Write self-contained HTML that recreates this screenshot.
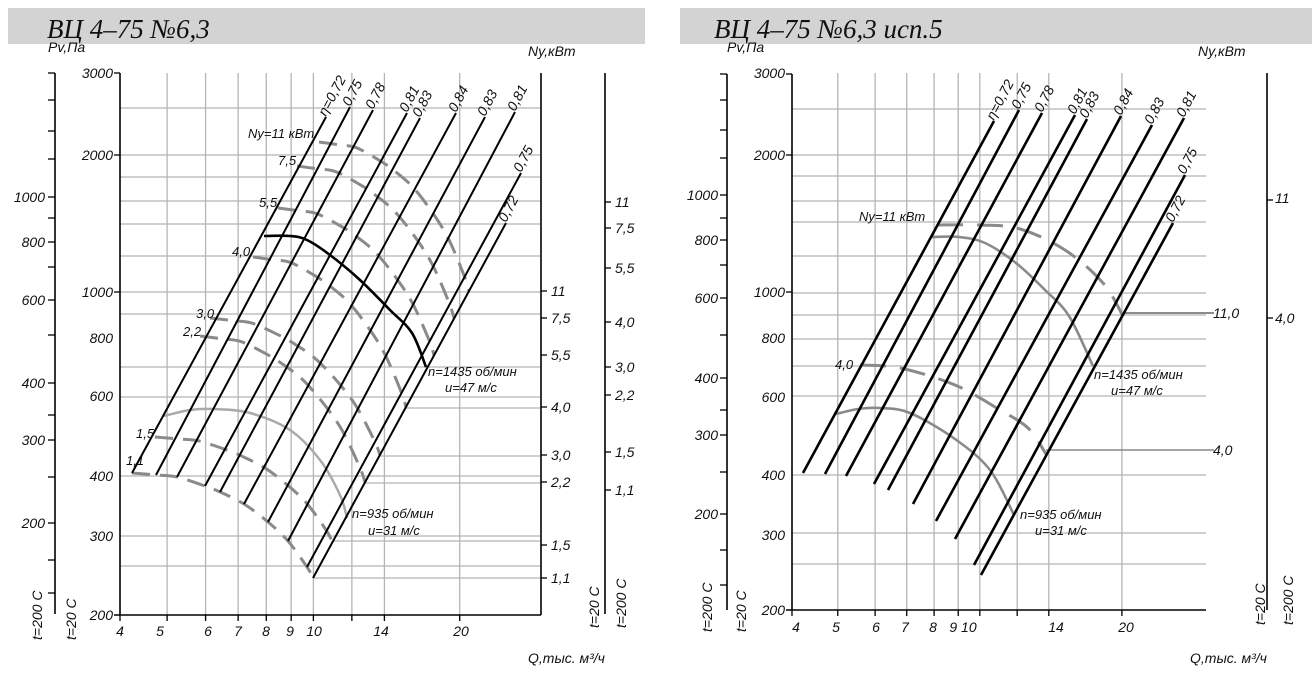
<!DOCTYPE html>
<html><head><meta charset="utf-8"><style>
html,body{margin:0;padding:0;background:#fff}
svg{display:block}
text{font-family:"Liberation Sans","DejaVu Sans",sans-serif;font-style:italic;font-size:14px;fill:#111}
.t{font-family:"Liberation Serif",serif;font-size:27px}
.s{font-size:13px}
</style></head><body>
<svg id="s" width="1312" height="683" viewBox="0 0 1312 683" xmlns="http://www.w3.org/2000/svg">
<rect x="8" y="8" width="637" height="36" fill="#d3d3d3"/>
<rect x="680" y="8" width="632" height="36" fill="#d3d3d3"/>
<text class="t" x="47" y="38">ВЦ 4–75 №6,3</text>
<text class="t" x="714" y="38">ВЦ 4–75 №6,3 исп.5</text>
<g id="g"></g>
<text x="48" y="52">Pv,Па</text><text x="528" y="56">Ny,кВт</text>
<g text-anchor="end">
<text x="113" y="78">3000</text><text x="113" y="160">2000</text><text x="113" y="297">1000</text><text x="113" y="343">800</text><text x="113" y="401">600</text><text x="113" y="481">400</text><text x="113" y="541">300</text><text x="113" y="620">200</text>
<text x="45" y="202">1000</text><text x="45" y="247">800</text><text x="45" y="305">600</text><text x="45" y="388">400</text><text x="45" y="445">300</text><text x="45" y="528">200</text>
</g>
<g text-anchor="middle">
<text x="120" y="636">4</text><text x="160" y="636">5</text><text x="208" y="636">6</text><text x="238" y="636">7</text><text x="266" y="636">8</text><text x="290" y="636">9</text><text x="314" y="636">10</text><text x="381" y="636">14</text><text x="461" y="636">20</text>
</g>
<text x="528" y="663">Q,тыс. м³/ч</text>
<g>
<text x="551" y="296">11</text><text x="551" y="323">7,5</text><text x="551" y="360">5,5</text><text x="551" y="412">4,0</text><text x="551" y="460">3,0</text><text x="551" y="487">2,2</text><text x="551" y="550">1,5</text><text x="551" y="583">1,1</text>
<text x="615" y="207">11</text><text x="615" y="233">7,5</text><text x="615" y="273">5,5</text><text x="615" y="327">4,0</text><text x="615" y="372">3,0</text><text x="615" y="400">2,2</text><text x="615" y="457">1,5</text><text x="615" y="495">1,1</text>
</g>
<text x="248" y="138" class="s">Ny=11 кВт</text>
<text x="278" y="165" class="s">7,5</text><text x="259" y="207" class="s">5,5</text><text x="232" y="256" class="s">4,0</text>
<text x="196" y="318" class="s">3,0</text><text x="183" y="336" class="s">2,2</text><text x="136" y="438" class="s">1,5</text><text x="126" y="465" class="s">1,1</text>
<text x="428" y="376" class="s">n=1435 об/мин</text><text x="445" y="392" class="s">u=47 м/с</text>
<text x="352" y="518" class="s">n=935 об/мин</text><text x="368" y="535" class="s">u=31 м/с</text>
<g class="s">
<text transform="translate(326,117) rotate(-62)">η=0,72</text>
<text transform="translate(350,107) rotate(-62)">0,75</text>
<text transform="translate(373,110) rotate(-62)">0,78</text>
<text transform="translate(407,113) rotate(-62)">0,81</text>
<text transform="translate(420,118) rotate(-62)">0,83</text>
<text transform="translate(456,113) rotate(-62)">0,84</text>
<text transform="translate(485,117) rotate(-62)">0,83</text>
<text transform="translate(515,112) rotate(-62)">0,81</text>
<text transform="translate(521,173) rotate(-62)">0,75</text>
<text transform="translate(506,223) rotate(-62)">0,72</text>
</g>
<text transform="translate(42,640) rotate(-90)">t=200 C</text>
<text transform="translate(76,640) rotate(-90)">t=20 C</text>
<text transform="translate(599,628) rotate(-90)">t=20 C</text>
<text transform="translate(626,628) rotate(-90)">t=200 C</text>

<text x="727" y="52">Pv,Па</text><text x="1198" y="56">Ny,кВт</text>
<g text-anchor="end">
<text x="785" y="78">3000</text><text x="785" y="160">2000</text><text x="785" y="297">1000</text><text x="785" y="343">800</text><text x="785" y="402">600</text><text x="785" y="480">400</text><text x="785" y="540">300</text><text x="785" y="615">200</text>
<text x="718" y="200">1000</text><text x="718" y="245">800</text><text x="718" y="303">600</text><text x="718" y="383">400</text><text x="718" y="440">300</text><text x="718" y="519">200</text>
</g>
<g text-anchor="middle">
<text x="796" y="632">4</text><text x="836" y="632">5</text><text x="876" y="632">6</text><text x="905" y="632">7</text><text x="933" y="632">8</text><text x="963" y="632">9 10</text><text x="1056" y="632">14</text><text x="1126" y="632">20</text>
</g>
<text x="1190" y="663">Q,тыс. м³/ч</text>
<text x="1213" y="318">11,0</text><text x="1213" y="455">4,0</text>
<text x="1275" y="203">11</text><text x="1275" y="323">4,0</text>
<text x="859" y="221" class="s">Ny=11 кВт</text>
<text x="835" y="369" class="s">4,0</text>
<text x="1094" y="379" class="s">n=1435 об/мин</text><text x="1111" y="395" class="s">u=47 м/с</text>
<text x="1020" y="519" class="s">n=935 об/мин</text><text x="1035" y="535" class="s">u=31 м/с</text>
<g class="s">
<text transform="translate(994,121) rotate(-62)">η=0,72</text>
<text transform="translate(1019,110) rotate(-62)">0,75</text>
<text transform="translate(1042,113) rotate(-62)">0,78</text>
<text transform="translate(1075,115) rotate(-62)">0,81</text>
<text transform="translate(1087,119) rotate(-62)">0,83</text>
<text transform="translate(1121,116) rotate(-62)">0,84</text>
<text transform="translate(1152,125) rotate(-62)">0,83</text>
<text transform="translate(1184,118) rotate(-62)">0,81</text>
<text transform="translate(1185,175) rotate(-62)">0,75</text>
<text transform="translate(1173,223) rotate(-62)">0,72</text>
</g>
<text transform="translate(712,632) rotate(-90)">t=200 C</text>
<text transform="translate(746,632) rotate(-90)">t=20 C</text>
<text transform="translate(1265,625) rotate(-90)">t=20 C</text>
<text transform="translate(1293,625) rotate(-90)">t=200 C</text>
</svg>
<script>
var NS="http://www.w3.org/2000/svg",g=document.getElementById("g");
function el(n,a){var e=document.createElementNS(NS,n);for(var k in a)e.setAttribute(k,a[k]);g.appendChild(e);return e}
function L(x1,y1,x2,y2,c,w,da){var o={x1:x1,y1:y1,x2:x2,y2:y2,stroke:c,"stroke-width":w};if(da)o["stroke-dasharray"]=da;el("line",o)}
function P(p,c,w,da){var d="M"+p[0][0]+","+p[0][1];
for(var i=0;i<p.length-1;i++){var p0=p[i-1]||p[i],p1=p[i],p2=p[i+1],p3=p[i+2]||p2;
d+=" C"+(p1[0]+(p2[0]-p0[0])/6)+","+(p1[1]+(p2[1]-p0[1])/6)+" "+(p2[0]-(p3[0]-p1[0])/6)+","+(p2[1]-(p3[1]-p1[1])/6)+" "+p2[0]+","+p2[1];}
var o={d:d,fill:"none",stroke:c,"stroke-width":w,"stroke-linecap":"butt"};if(da)o["stroke-dasharray"]=da;el("path",o)}
var GC="#b5b5b5";
var qs=[5,6,7,8,9,10,12,14,20];
qs.forEach(function(q){var x=120+486*Math.log10(q/4);L(x,73,x,620,GC,1.3)});
[108,155,177,201,224,256,292,314,367,397,476,536,566].forEach(function(y){L(120,y,540,y,GC,1.3)});
L(406,408,540,408,GC,1.3);L(380,456,540,456,GC,1.3);L(365,483,540,483,GC,1.3);L(334,541,540,541,GC,1.3);L(313,578,540,578,GC,1.3);
L(120,73,120,615,"#000",1.6);L(114,615,541,615,"#000",1.6);L(541,73,541,615,"#000",1.6);
L(114,73,120,73,"#000",1.3);L(114,155,120,155,"#000",1.3);L(114,292,120,292,"#000",1.3);
qs.concat([4]).forEach(function(q){var x=120+486*Math.log10(q/4);L(x,615,x,621,"#000",1.3)});
L(55,73,55,614,"#000",1.6);
[73,100,131,159,197,218,242,267,300,335,383,415,440,477,523,560,593].forEach(function(y){L(48,y,55,y,"#000",1.3)});
L(605,73,605,614,"#000",1.6);
[202,228,268,322,367,395,452,490].forEach(function(y){L(605,y,611,y,"#000",1.3)});
[291,318,355,407,455,482,545,578].forEach(function(y){L(541,y,547,y,"#000",1.3)});
var base=[[132,473],[156,475],[177,477],[205,486],[220,492],[244,504],[268,522],[288,541],[307,567],[313,578]];
var cv=[[[319,142],[469,291]],[[297,166],[454,318]],[[278,208],[434,355]],[[253,257],[406,407]],[[210,318],[380,455]],[[200,336],[365,482]],[[155,437],[332,541]]];
cv.forEach(function(c){var S=c[0],E=c[1],sx=(E[0]-S[0])/181,sy=(E[1]-S[1])/105;
P(base.map(function(b){return[S[0]+(b[0]-132)*sx,S[1]+(b[1]-473)*sy]}),"#8a8a8a",3,"18,10")});
P(base,"#8a8a8a",3,"18,10");
P([[164,416],[190,410],[214,409],[250,413],[290,430],[320,460],[340,495],[347,518]],"#aaa",2.5);
var tops=[[326,117],[350,107],[373,110],[407,113],[420,118],[456,113],[485,117],[515,112],[521,173],[506,223]];
base.forEach(function(b,i){L(b[0],b[1],tops[i][0],tops[i][1],"#000",2)});
P([[264,236],[290,236],[307,240],[330,255],[360,280],[390,310],[412,333],[426,367]],"#000",2.6);
qs.forEach(function(q){var x=792+472*Math.log10(q/4);L(x,73,x,610,GC,1.3)});
[109,155,176,201,222,256,293,315,339,366,396,475,533,564].forEach(function(y){L(792,y,1206,y,GC,1.3)});
L(1046,450,1214,450,"#888",1.5);L(1123,313,1214,313,"#666",1.5);
L(792,74,792,610,"#000",1.6);L(786,610,1206,610,"#000",1.6);
L(786,74,792,74,"#000",1.3);L(786,155,792,155,"#000",1.3);L(786,292,792,292,"#000",1.3);
qs.concat([4]).forEach(function(q){var x=792+472*Math.log10(q/4);L(x,610,x,616,"#000",1.3)});
L(727,74,727,610,"#000",1.6);
[74,100,130,158,195,218,240,265,298,335,378,410,435,472,514,550,585].forEach(function(y){L(720,y,727,y,"#000",1.3)});
L(1267,73,1267,610,"#000",1.6);L(1267,200,1273,200,"#000",1.3);L(1267,318,1273,318,"#000",1.3);
var rb=[[803,473],[825,474],[846,476],[874,484],[888,490],[913,504],[936,521],[955,539],[974,565],[981,575]];
var rt=[[994,121],[1019,110],[1042,113],[1075,115],[1087,119],[1121,116],[1152,125],[1184,118],[1185,175],[1173,223]];
P([[937,225],[980,225],[1020,229],[1065,250],[1103,283],[1123,316]],"#8a8a8a",3,"26,14");
P([[860,365],[900,368],[955,385],[1000,410],[1028,428],[1046,454]],"#8a8a8a",3,"26,14");
P([[932,237],[959,237],[985,243],[1016,263],[1045,290],[1069,316],[1093,366]],"#8a8a8a",2.6);
P([[836,414],[858,409],[880,408],[910,413],[955,439],[990,470],[1014,515]],"#8a8a8a",2.6);
rb.forEach(function(b,i){L(b[0],b[1],rt[i][0],rt[i][1],"#000",2.6)});
</script>
</body></html>
